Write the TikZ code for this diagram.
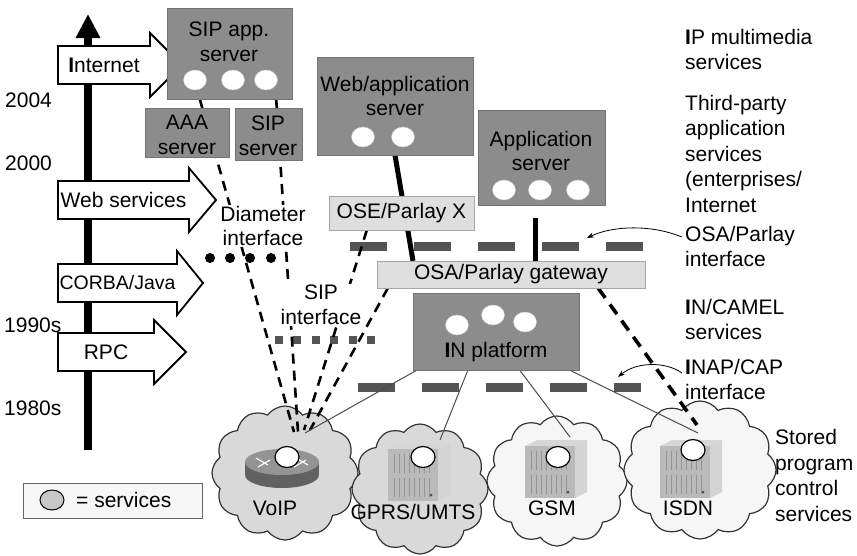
\documentclass[tikz,border=0pt]{standalone}
\usepackage{fontspec}
\setmainfont{Liberation Sans}
\usetikzlibrary{shapes.geometric, shapes.symbols, arrows.meta, shadows, positioning}

\definecolor{caja}{gray}{0.55}
\definecolor{cajaclara}{gray}{0.87}
\definecolor{barra}{gray}{0.33}
\definecolor{nubegris}{gray}{0.85}
\definecolor{nubeclara}{gray}{0.965}

\pgfdeclarelayer{fondo}
\pgfdeclarelayer{enlaces}
\pgfsetlayers{fondo,enlaces,main}

\tikzset{
  texto/.style={font=\fontsize{21}{24.5}\selectfont, inner sep=0pt, align=center},
  rotulo/.style={font=\fontsize{21}{25.5}\selectfont, inner sep=0pt, align=left, anchor=west},
  servidor/.style={draw=black!55, fill=caja, inner sep=0pt,
    drop shadow={shadow xshift=1.2pt, shadow yshift=-1.2pt, fill=black!60, opacity=0.7}},
  pasarela/.style={draw=black!35, fill=cajaclara, inner sep=0pt, font=\fontsize{21}{24.5}\selectfont,
    drop shadow={shadow xshift=1pt, shadow yshift=-1pt, fill=black!40, opacity=0.6}},
  svc/.style={ellipse, fill=white, draw=black!20, inner sep=0pt, minimum width=23pt, minimum height=20pt},
  svcdev/.style={ellipse, fill=white, draw=black, line width=1.2pt, inner sep=0pt,
    minimum width=24pt, minimum height=21pt},
  nube/.style={cloud, cloud puffs=12, cloud puff arc=110, aspect=1, draw=black!80,
    line width=1.2pt, inner sep=0pt},
  interfaz/.style={draw=barra, line width=9pt},
  discontinua/.style={draw=black, line width=2.6pt, dash pattern=on 10pt off 7pt},
  gruesa/.style={draw=black, line width=5pt},
  fina/.style={draw=black!70, line width=1pt},
  flechaera/.style={draw=black, line width=1.8pt, fill=white, line join=miter},
  indicador/.style={draw=black, line width=0.8pt, -{Stealth[length=7pt,width=5pt]}},
}

% flecha de epoca: nombre, y, punta, largo de la cabeza, texto
\newcommand\eraflecha[5]{%
  \draw[flechaera] (58,#2-19) -- (#3-#4,#2-19) -- (#3-#4,#2-32) -- (#3,#2)
    -- (#3-#4,#2+32) -- (#3-#4,#2+19) -- (58,#2+19) -- cycle;
  \node[texto] (#1) at ({(58+#3-#4)/2},#2) {#5};}

% equipo en bastidor: nombre, esquina superior izquierda
\newcommand\bastidor[2]{%
  \begin{scope}[shift={(#2)}]
    \fill[black!16] (0,6) -- (12,0) -- (62,0) -- (50,6) -- cycle;
    \fill[black!27] (0,6) rectangle (50,58);
    \fill[black!17] (50,6) -- (62,0) -- (62,52) -- (50,58) -- cycle;
    \foreach \i in {6,11,...,44}
      \draw[black!42, line width=0.5pt] (\i,11) -- (\i,30) (\i,35) -- (\i,54);
    \fill[black!70] (43,52) circle (1.5pt);
    \coordinate (#1) at (31,0);
  \end{scope}}

\begin{document}
\begin{tikzpicture}[x=1pt, y=-1pt]
\useasboundingbox (0,0) rectangle (857,555);

% Eje del tiempo
\coordinate (tabajo) at (88,450);
\coordinate (tarriba) at (88,14);
\draw[line width=8pt, -{Triangle[length=24pt,width=23pt]}] (tabajo) -- (tarriba);

\node[texto, anchor=west] (a2004) at (5,100) {2004};
\node[texto, anchor=west] (a2000) at (5,163) {2000};
\node[texto, anchor=west] (a1990) at (4,325) {1990s};
\node[texto, anchor=west] (a1980) at (4,408) {1980s};

% Flechas de epoca
\eraflecha{internet}{65}{182}{32}{\textbf{I}nternet}
\eraflecha{websvc}{200}{216}{27}{Web services}
\eraflecha{corba}{283}{203}{26}{\fontsize{19.5}{22}\selectfont CORBA/Java}
\eraflecha{rpc}{352}{186}{32}{RPC}

% Redes (nubes y equipos)
\begin{pgfonlayer}{fondo}
\node[nube, fill=nubegris, minimum width=146pt, minimum height=134pt] (voip) at (285,473) {};
\node[nube, fill=nubegris, minimum width=136pt, minimum height=130pt] (gprs) at (420,489) {};
\node[nube, fill=nubeclara, minimum width=140pt, minimum height=130pt] (gsm) at (557,481) {};
\node[nube, fill=nubeclara, minimum width=152pt, minimum height=138pt] (isdn) at (700,470) {};

\fill[black!62] (282,475) ellipse [x radius=37, y radius=13];
\fill[black!62] (245,462) rectangle (319,475);
\node[ellipse, fill=black!42, minimum width=74pt, minimum height=26pt, inner sep=0pt] (router) at (282,462) {};
\draw[white, line width=1.1pt] (256,458) -- (268,465) (296,458) -- (308,465)
  (258,467) -- (270,460) (294,467) -- (306,460);
\node[svcdev] (voipsvc) at (287,457) {};

\bastidor{gprsdev}{388,443}
\node[svcdev] (gprssvc) at (423,457) {};
\bastidor{gsmdev}{525,440}
\node[svcdev] (gsmsvc) at (558,457) {};
\bastidor{isdndev}{660,440}
\node[svcdev] (isdnsvc) at (693,450) {};
\end{pgfonlayer}

\node[texto] (voiptxt) at (275,508) {VoIP};
\node[texto] (gprstxt) at (413,512) {GPRS/UMTS};
\node[texto] (gsmtxt) at (552,508) {GSM};
\node[texto] (isdntxt) at (688,508) {ISDN};

% Servidores y plataformas
\node[servidor, minimum width=125pt, minimum height=91pt] (sipapp) at (229.5,53.5) {};
\node[texto] (sipapptxt) at (229,42) {SIP app.\\server};
\node[svc] (sa1) at (195,80) {};
\node[svc] (sa2) at (233,80) {};
\node[svc] (sa3) at (266,80) {};

\node[servidor, minimum width=84pt, minimum height=49pt] (aaa) at (187,132.5) {};
\node[texto] (aaatxt) at (187,135) {AAA\\server};
\node[servidor, minimum width=67pt, minimum height=52pt] (sipsrv) at (268.5,134) {};
\node[texto] (sipsrvtxt) at (268,136) {SIP\\server};

\node[servidor, minimum width=156pt, minimum height=98pt] (websrv) at (395,106) {};
\node[texto] (websrvtxt) at (395,96) {Web/application\\server};
\node[svc] (ws1) at (363,137) {};
\node[svc] (ws2) at (403,137) {};

\node[servidor, minimum width=127pt, minimum height=95pt] (appsrv) at (541.5,157.5) {};
\node[texto] (appsrvtxt) at (541,151) {Application\\server};
\node[svc] (ap1) at (504,190) {};
\node[svc] (ap2) at (540,190) {};
\node[svc] (ap3) at (578,190) {};

\node[pasarela, minimum width=145pt, minimum height=34pt] (ose) at (401.5,213) {OSE/Parlay X};
\node[pasarela, minimum width=268pt, minimum height=27pt] (gateway) at (511,274.5) {OSA/Parlay gateway};

\node[servidor, minimum width=166pt, minimum height=77pt] (inplat) at (496,331.5) {};
\node[svc] (in1) at (457,325) {};
\node[svc] (in2) at (493,315) {};
\node[svc] (in3) at (525,322) {};
\node[texto] (inplattxt) at (496,352) {\textbf{I}N platform};

% Interfaces
\node[texto, fill=white, inner sep=1pt] (diamtxt) at (263,226) {Diameter\\interface};
\node[texto, fill=white, inner sep=1pt] (siptxt) at (321,305) {SIP\\interface};
\foreach \x in {210,230,250,271}
  \fill (\x,258) circle (5pt);

\coordinate (osai-a) at (350,246);
\coordinate (osai-b) at (643,246);
\coordinate (inap-a) at (358,387);
\coordinate (inap-b) at (641,387);
\coordinate (sipi-a) at (275,340);
\coordinate (sipi-b) at (375,340);

% Enlaces
\coordinate (voip-a) at (294,432);
\coordinate (voip-b) at (298,432);
\coordinate (voip-c) at (304,430);
\coordinate (voip-d) at (310,430);
\coordinate (voip-e) at (305,433);
\coordinate (gprs-a) at (440,440);
\coordinate (gsm-a) at (570,437);
\coordinate (isdn-a) at (698,433);
\coordinate (isdn-b) at (697,425);

\begin{pgfonlayer}{enlaces}
\draw[interfaz, dash pattern=on 37pt off 27pt] (osai-a) -- (osai-b);
\draw[interfaz, dash pattern=on 37pt off 27pt] (inap-a) -- (inap-b);
\draw[interfaz, line width=8pt, dash pattern=on 8pt off 10.4pt] (sipi-a) -- (sipi-b);

\draw[discontinua] ([xshift=33pt]sipapp.south west) -- (voip-a);
\draw[discontinua] ([xshift=-16pt]sipapp.south east) -- (voip-b);
\draw[discontinua] ([xshift=38pt]ose.south west) -- (voip-c);
\draw[discontinua] ([xshift=11pt]gateway.south west) -- (voip-d);
\draw[discontinua, line width=3.6pt, dash pattern=on 12pt off 8pt] ([xshift=-47pt]gateway.south east) -- (isdn-b);

\draw[gruesa] (websrv.south) -- ([xshift=-98pt]gateway.north);
\draw[gruesa] ([xshift=-6.5pt, yshift=-13pt]appsrv.south) -- ([xshift=24pt]gateway.north);

\draw[fina] ([xshift=4pt]inplat.south west) -- (voip-e);
\draw[fina] ([xshift=55pt]inplat.south west) -- (gprs-a);
\draw[fina] ([xshift=107pt]inplat.south west) -- (gsm-a);
\draw[fina] ([xshift=157pt]inplat.south west) -- (isdn-a);
\end{pgfonlayer}

% Rotulos de la derecha
\node[rotulo] (imslbl) at (685,49.5) {\textbf{I}P multimedia\\services};
\node[rotulo] (tercerolbl) at (685,153.5) {Third-party\\application\\services\\(enterprises/\\Internet};
\node[rotulo] (osalbl) at (685,246.5) {OSA/Parlay\\interface};
\node[rotulo] (camellbl) at (685,319.5) {\textbf{I}N/CAMEL\\services};
\node[rotulo] (inaplbl) at (685,379.5) {\textbf{I}NAP/CAP\\interface};
\node[rotulo] (spclbl) at (775,475.5) {Stored\\program\\control\\services};

\coordinate (osatip) at (587,238);
\coordinate (inaptip) at (618,377);
\draw[indicador] ([shift={(-3,-9.5)}]osalbl.west) .. controls (650,224) and (612,226) .. (osatip);
\draw[indicador] ([shift={(-3,-6.5)}]inaplbl.west) .. controls (665,361) and (636,362) .. (inaptip);

% Leyenda
\node[draw=black!60, fill=black!3, line width=1pt, minimum width=179pt, minimum height=35pt, inner sep=0pt] (leyenda) at (112.5,500.5) {};
\node[ellipse, draw, line width=1pt, fill=black!22, minimum width=24pt, minimum height=20pt, inner sep=0pt] (leyendasvc) at (52,500) {};
\node[texto, anchor=west] (leyendatxt) at (76,500) {= services};
\end{tikzpicture}
\end{document}
